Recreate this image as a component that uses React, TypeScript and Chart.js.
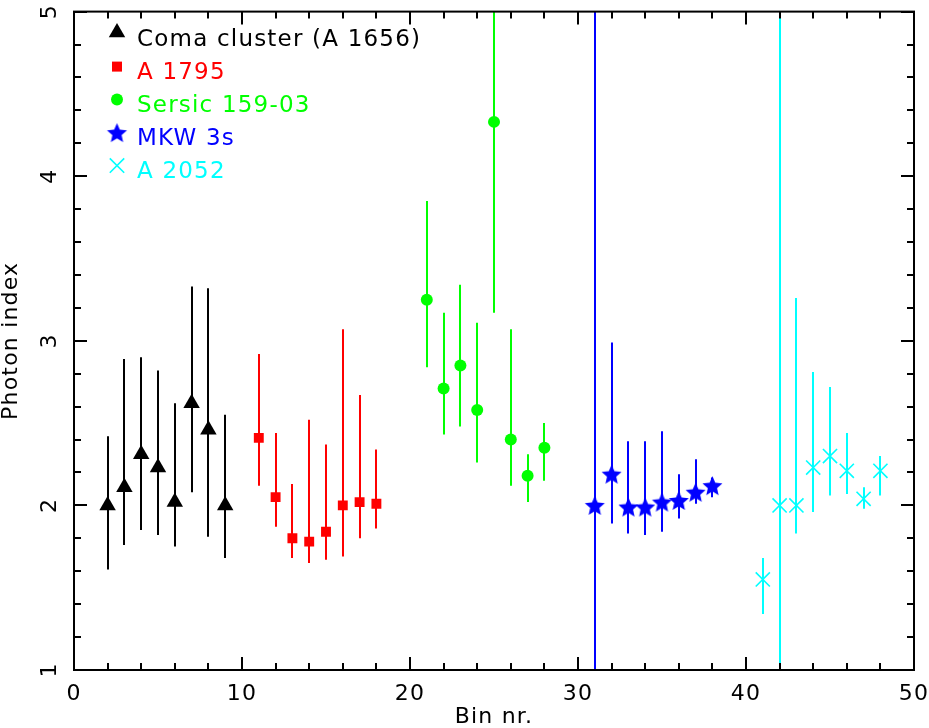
import React, { useEffect, useRef } from 'react';
import { Chart, registerables } from 'chart.js';

Chart.register(...registerables);

const FONT = '"DejaVu Sans", "Liberation Sans", sans-serif';

// Coma cluster (A 1656)
const comaBins = [2, 3, 4, 5, 6, 7, 8, 9];
const comaIndex = [2.0, 2.11, 2.31, 2.23, 2.02, 2.62, 2.46, 2.0];
const comaHigh = [2.42, 2.89, 2.9, 2.82, 2.62, 3.33, 3.32, 2.55];
const comaLow = [1.61, 1.76, 1.85, 1.82, 1.75, 2.08, 1.81, 1.68];

// A 1795
const a1795Bins = [11, 12, 13, 14, 15, 16, 17, 18];
const a1795Index = [2.41, 2.05, 1.8, 1.78, 1.84, 2.0, 2.02, 2.01];
const a1795High = [2.92, 2.44, 2.13, 2.52, 2.37, 3.07, 2.67, 2.34];
const a1795Low = [2.12, 1.87, 1.68, 1.65, 1.67, 1.69, 1.8, 1.86];

// Sersic 159-03
const sersicBins = [21, 22, 23, 24, 25, 26, 27, 28];
const sersicIndex = [3.25, 2.71, 2.85, 2.58, 4.33, 2.4, 2.18, 2.35];
const sersicHigh = [3.85, 3.17, 3.34, 3.11, 5.8, 3.07, 2.31, 2.5];
const sersicLow = [2.84, 2.43, 2.48, 2.26, 3.17, 2.12, 2.02, 2.15];

// MKW 3s
const mkwBins = [31, 32, 33, 34, 35, 36, 37, 38];
const mkwIndex = [2.0, 2.19, 1.99, 1.99, 2.02, 2.03, 2.08, 2.12];
const mkwHigh = [6.5, 2.99, 2.39, 2.39, 2.45, 2.19, 2.28, 2.17];
const mkwLow = [0.0, 1.89, 1.83, 1.82, 1.84, 1.92, 2.01, 2.05];

// A 2052
const a2052Bins = [41, 42, 43, 44, 45, 46, 47, 48];
const a2052Index = [1.55, 2.0, 2.0, 2.23, 2.3, 2.21, 2.04, 2.21];
const a2052High = [1.68, 6.5, 3.26, 2.81, 2.72, 2.44, 2.11, 2.3];
const a2052Low = [1.34, 0.0, 1.83, 1.96, 2.06, 2.07, 1.98, 2.06];

const seriesLabels = ['Coma cluster (A 1656)', 'A 1795', 'Sersic 159-03', 'MKW 3s', 'A 2052'];
const seriesColors = ['#000000', '#ff0000', '#00ff00', '#0000ff', '#00ffff'];

const xTickValues = [0, 10, 20, 30, 40, 50];
const yTickValues = [1, 2, 3, 4, 5];

function makeStar(color: string, R: number): HTMLCanvasElement {
  const size = Math.ceil(2 * R + 2);
  const c = document.createElement('canvas');
  c.width = size;
  c.height = size;
  const g = c.getContext('2d')!;
  const cx = size / 2;
  const cy = size / 2 + 0.9;
  const r = R * 0.46;
  g.beginPath();
  for (let i = 0; i < 10; i++) {
    const ang = -Math.PI / 2 + (i * Math.PI) / 5;
    const rad = i % 2 === 0 ? R : r;
    const px = cx + rad * Math.cos(ang);
    const py = cy + rad * Math.sin(ang);
    if (i === 0) g.moveTo(px, py);
    else g.lineTo(px, py);
  }
  g.closePath();
  g.fillStyle = color;
  g.fill();
  return c;
}

type Series = { bins: number[]; y: number[]; hi: number[]; lo: number[]; color: string };

export default function App() {
  const ref = useRef<HTMLCanvasElement | null>(null);

  useEffect(() => {
    if (!ref.current) return;
    const star = makeStar('#0000ff', 10.5);
    const legendStar = makeStar('#0000ff', 10.5);

    const series: Series[] = [
      { bins: comaBins, y: comaIndex, hi: comaHigh, lo: comaLow, color: seriesColors[0] },
      { bins: a1795Bins, y: a1795Index, hi: a1795High, lo: a1795Low, color: seriesColors[1] },
      { bins: sersicBins, y: sersicIndex, hi: sersicHigh, lo: sersicLow, color: seriesColors[2] },
      { bins: mkwBins, y: mkwIndex, hi: mkwHigh, lo: mkwLow, color: seriesColors[3] },
      { bins: a2052Bins, y: a2052Index, hi: a2052High, lo: a2052Low, color: seriesColors[4] },
    ];

    const toPts = (s: Series) => s.bins.map((b, i) => ({ x: b, y: s.y[i] }));

    const drawMarker = (ctx: CanvasRenderingContext2D, idx: number, x: number, y: number) => {
      const color = seriesColors[idx];
      ctx.save();
      ctx.fillStyle = color;
      ctx.strokeStyle = color;
      if (idx === 0) {
        const r = 9.5;
        ctx.beginPath();
        ctx.moveTo(x, y - r);
        ctx.lineTo(x + r * Math.sin(Math.PI / 3), y + r / 2);
        ctx.lineTo(x - r * Math.sin(Math.PI / 3), y + r / 2);
        ctx.closePath();
        ctx.fill();
      } else if (idx === 1) {
        ctx.fillRect(x - 5, y - 5, 10, 10);
      } else if (idx === 2) {
        ctx.beginPath();
        ctx.arc(x, y, 6, 0, Math.PI * 2);
        ctx.fill();
      } else if (idx === 3) {
        ctx.drawImage(legendStar, x - legendStar.width / 2, y - legendStar.height / 2);
      } else {
        const d = 7.2;
        ctx.lineWidth = 1.6;
        ctx.beginPath();
        ctx.moveTo(x - d, y - d);
        ctx.lineTo(x + d, y + d);
        ctx.moveTo(x + d, y - d);
        ctx.lineTo(x - d, y + d);
        ctx.stroke();
      }
      ctx.restore();
    };

    const framePlugin = {
      id: 'pgframe',
      beforeDraw(chart: any) {
        (chart.ctx as any).letterSpacing = '1.2px';
      },
      beforeDatasetsDraw(chart: any) {
        const { ctx, chartArea: a, scales } = chart;
        ctx.save();
        ctx.beginPath();
        ctx.rect(a.left, a.top, a.right - a.left, a.bottom - a.top);
        ctx.clip();
        ctx.lineWidth = 2;
        series.forEach((s) => {
          ctx.strokeStyle = s.color;
          s.bins.forEach((b, i) => {
            const px = Math.round(scales.x.getPixelForValue(b));
            ctx.beginPath();
            ctx.moveTo(px, scales.y.getPixelForValue(s.lo[i]));
            ctx.lineTo(px, scales.y.getPixelForValue(s.hi[i]));
            ctx.stroke();
          });
        });
        ctx.restore();
      },
      afterDraw(chart: any) {
        const { ctx, chartArea: a, scales } = chart;
        ctx.save();
        ctx.strokeStyle = '#000';
        ctx.lineWidth = 2;
        ctx.strokeRect(a.left, a.top, a.right - a.left, a.bottom - a.top);
        ctx.beginPath();
        for (let v = 0; v <= 50; v += 2) {
          const px = Math.round(scales.x.getPixelForValue(v));
          const len = v % 10 === 0 ? 13 : 7;
          ctx.moveTo(px, a.bottom);
          ctx.lineTo(px, a.bottom - len);
          ctx.moveTo(px, a.top);
          ctx.lineTo(px, a.top + len);
        }
        for (let k = 0; k <= 20; k++) {
          const v = 1 + k * 0.2;
          const py = Math.round(scales.y.getPixelForValue(v));
          const len = k % 5 === 0 ? 13 : 7;
          ctx.moveTo(a.left, py);
          ctx.lineTo(a.left + len, py);
          ctx.moveTo(a.right, py);
          ctx.lineTo(a.right - len, py);
        }
        ctx.stroke();

        // legend
        ctx.font = `23px ${FONT}`;
        (ctx as any).letterSpacing = '1.2px';
        ctx.textBaseline = 'alphabetic';
        ctx.textAlign = 'left';
        seriesLabels.forEach((label, i) => {
          const base = a.top + 34 + i * 33;
          drawMarker(ctx, i, a.left + 43, base - (i === 0 ? 13 : 12));
          ctx.fillStyle = seriesColors[i];
          ctx.fillText(label, a.left + 63, base);
        });
        ctx.restore();
      },
    };

    const chart = new Chart(ref.current, {
      type: 'scatter',
      data: {
        datasets: [
          {
            label: seriesLabels[0],
            data: toPts(series[0]),
            pointStyle: 'triangle',
            pointRadius: 9.5,
            pointBorderWidth: 0,
            backgroundColor: seriesColors[0],
            borderColor: seriesColors[0],
          },
          {
            label: seriesLabels[1],
            data: toPts(series[1]),
            pointStyle: 'rect',
            pointRadius: 7,
            pointBorderWidth: 0,
            backgroundColor: seriesColors[1],
            borderColor: seriesColors[1],
          },
          {
            label: seriesLabels[2],
            data: toPts(series[2]),
            pointStyle: 'circle',
            pointRadius: 6,
            pointBorderWidth: 0,
            backgroundColor: seriesColors[2],
            borderColor: seriesColors[2],
          },
          {
            label: seriesLabels[3],
            data: toPts(series[3]),
            pointStyle: star as any,
            pointRadius: 10.5,
            backgroundColor: seriesColors[3],
            borderColor: seriesColors[3],
          },
          {
            label: seriesLabels[4],
            data: toPts(series[4]),
            pointStyle: 'crossRot',
            pointRadius: 10,
            pointBorderWidth: 1.6,
            backgroundColor: seriesColors[4],
            borderColor: seriesColors[4],
          },
        ],
      },
      options: {
        responsive: false,
        animation: false,
        layout: { padding: { top: 7, right: 15, left: 0, bottom: 0 } },
        plugins: { legend: { display: false }, tooltip: { enabled: false } },
        scales: {
          x: {
            type: 'linear',
            min: 0,
            max: 50,
            afterBuildTicks: (s: any) => {
              s.ticks = xTickValues.map((v) => ({ value: v }));
            },
            afterFit: (s: any) => {
              s.height = 58;
              s.paddingLeft = 0;
              s.paddingRight = 0;
            },
            ticks: {
              color: '#000',
              font: { family: FONT, size: 22 },
              padding: 11,
              maxRotation: 0,
              minRotation: 0,
            },
            grid: { display: false, drawTicks: false },
            border: { display: false },
            title: {
              display: true,
              text: 'Bin nr.',
              color: '#000',
              font: { family: FONT, size: 22, lineHeight: 1 },
              padding: { top: 0, bottom: 0 },
            },
          },
          y: {
            type: 'linear',
            min: 1,
            max: 5,
            afterBuildTicks: (s: any) => {
              s.ticks = yTickValues.map((v) => ({ value: v }));
            },
            afterFit: (s: any) => {
              s.width = 74;
              s.paddingTop = 0;
              s.paddingBottom = 0;
            },
            ticks: {
              color: '#000',
              font: { family: FONT, size: 22 },
              minRotation: 90,
              maxRotation: 90,
              crossAlign: 'center',
              padding: 17,
            },
            grid: { display: false, drawTicks: false },
            border: { display: false },
            title: {
              display: true,
              text: 'Photon index',
              color: '#000',
              font: { family: FONT, size: 22, lineHeight: 1 },
              padding: { top: 0, bottom: 0 },
            },
          },
        },
      },
      plugins: [framePlugin],
    } as any);

    return () => chart.destroy();
  }, []);

  return (
    <div style={{ position: 'absolute', left: 0, top: 0, width: 929, height: 728, background: '#fff' }}>
      <canvas ref={ref} width={929} height={728} style={{ width: 929, height: 728, display: 'block' }} />
    </div>
  );
}
